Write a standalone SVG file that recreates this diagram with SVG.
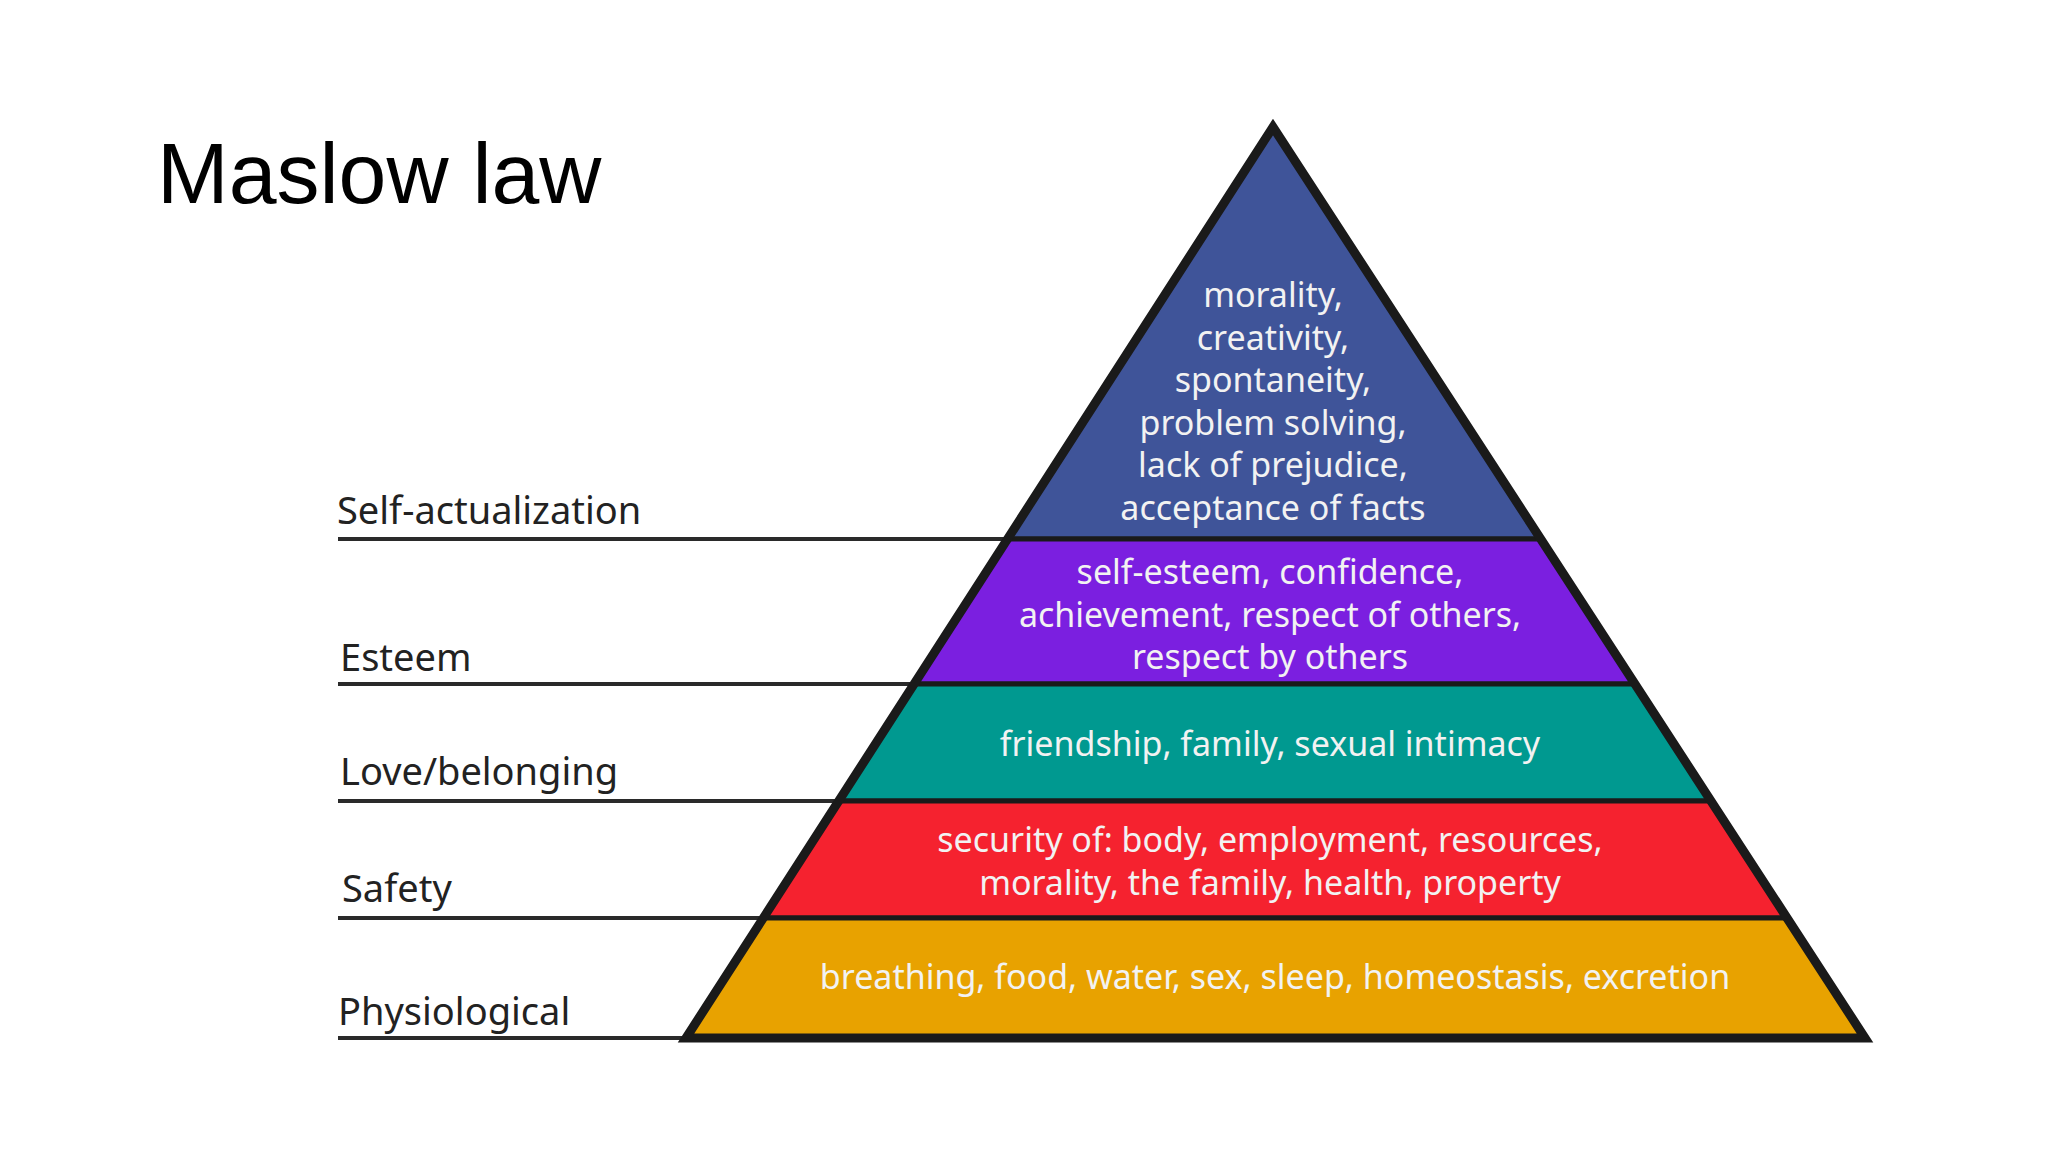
<svg xmlns="http://www.w3.org/2000/svg" width="2048" height="1152" viewBox="0 0 2048 1152">
<style>
.lbl{font-family:"Noto Sans","Open Sans",sans-serif;font-size:38px;fill:#222}
.in{font-family:"Noto Sans","Open Sans",sans-serif;font-size:34px;fill:#f2f2f2;text-anchor:middle}
.band{stroke:#1a1a1a;stroke-width:5}
.ln{stroke:#2a2a2a;stroke-width:4}
</style>
<rect width="2048" height="1152" fill="#fff"/>
<text x="157" y="203" font-family="Liberation Sans,Arial,sans-serif" font-size="86">Maslow law</text>
<g id="connectors">
<line class="ln" x1="338" y1="539" x2="1008" y2="539"/>
<line class="ln" x1="338" y1="684" x2="914" y2="684"/>
<line class="ln" x1="338" y1="801" x2="838" y2="801"/>
<line class="ln" x1="338" y1="918" x2="763" y2="918"/>
<line class="ln" x1="338" y1="1038" x2="686" y2="1038"/>
</g>
<g id="self-actualization">
<polygon class="band" fill="#3f5499" points="1273,127 1541,539 1008,539"/>
<text class="in" x="1273" y="307">morality,</text>
<text class="in" x="1273" y="350">creativity,</text>
<text class="in" x="1273" y="392">spontaneity,</text>
<text class="in" x="1273" y="435">problem solving,</text>
<text class="in" x="1273" y="477">lack of prejudice,</text>
<text class="in" x="1273" y="520">acceptance of facts</text>
<text class="lbl" x="337" y="524">Self-actualization</text>
</g>
<g id="esteem">
<polygon class="band" fill="#7b1fe0" points="1008,539 1541,539 1635,684 914,684"/>
<text class="in" x="1270" y="584">self-esteem, confidence,</text>
<text class="in" x="1270" y="627">achievement, respect of others,</text>
<text class="in" x="1270" y="669">respect by others</text>
<text class="lbl" x="340" y="671">Esteem</text>
</g>
<g id="love">
<polygon class="band" fill="#009990" points="914,684 1635,684 1711,801 838,801"/>
<text class="in" x="1270" y="756">friendship, family, sexual intimacy</text>
<text class="lbl" x="340" y="785">Love/belonging</text>
</g>
<g id="safety">
<polygon class="band" fill="#f5222f" points="838,801 1711,801 1787,918 763,918"/>
<text class="in" x="1270" y="852">security of: body, employment, resources,</text>
<text class="in" x="1270" y="895">morality, the family, health, property</text>
<text class="lbl" x="342" y="902">Safety</text>
</g>
<g id="physiological">
<polygon class="band" fill="#e8a200" points="763,918 1787,918 1865,1038 686,1038"/>
<text class="in" x="1275" y="989">breathing, food, water, sex, sleep, homeostasis, excretion</text>
<text class="lbl" x="338" y="1025">Physiological</text>
</g>
<polygon points="1273,127 1865,1038 686,1038" fill="none" stroke="#1a1a1a" stroke-width="9" stroke-linejoin="miter"/>
</svg>
